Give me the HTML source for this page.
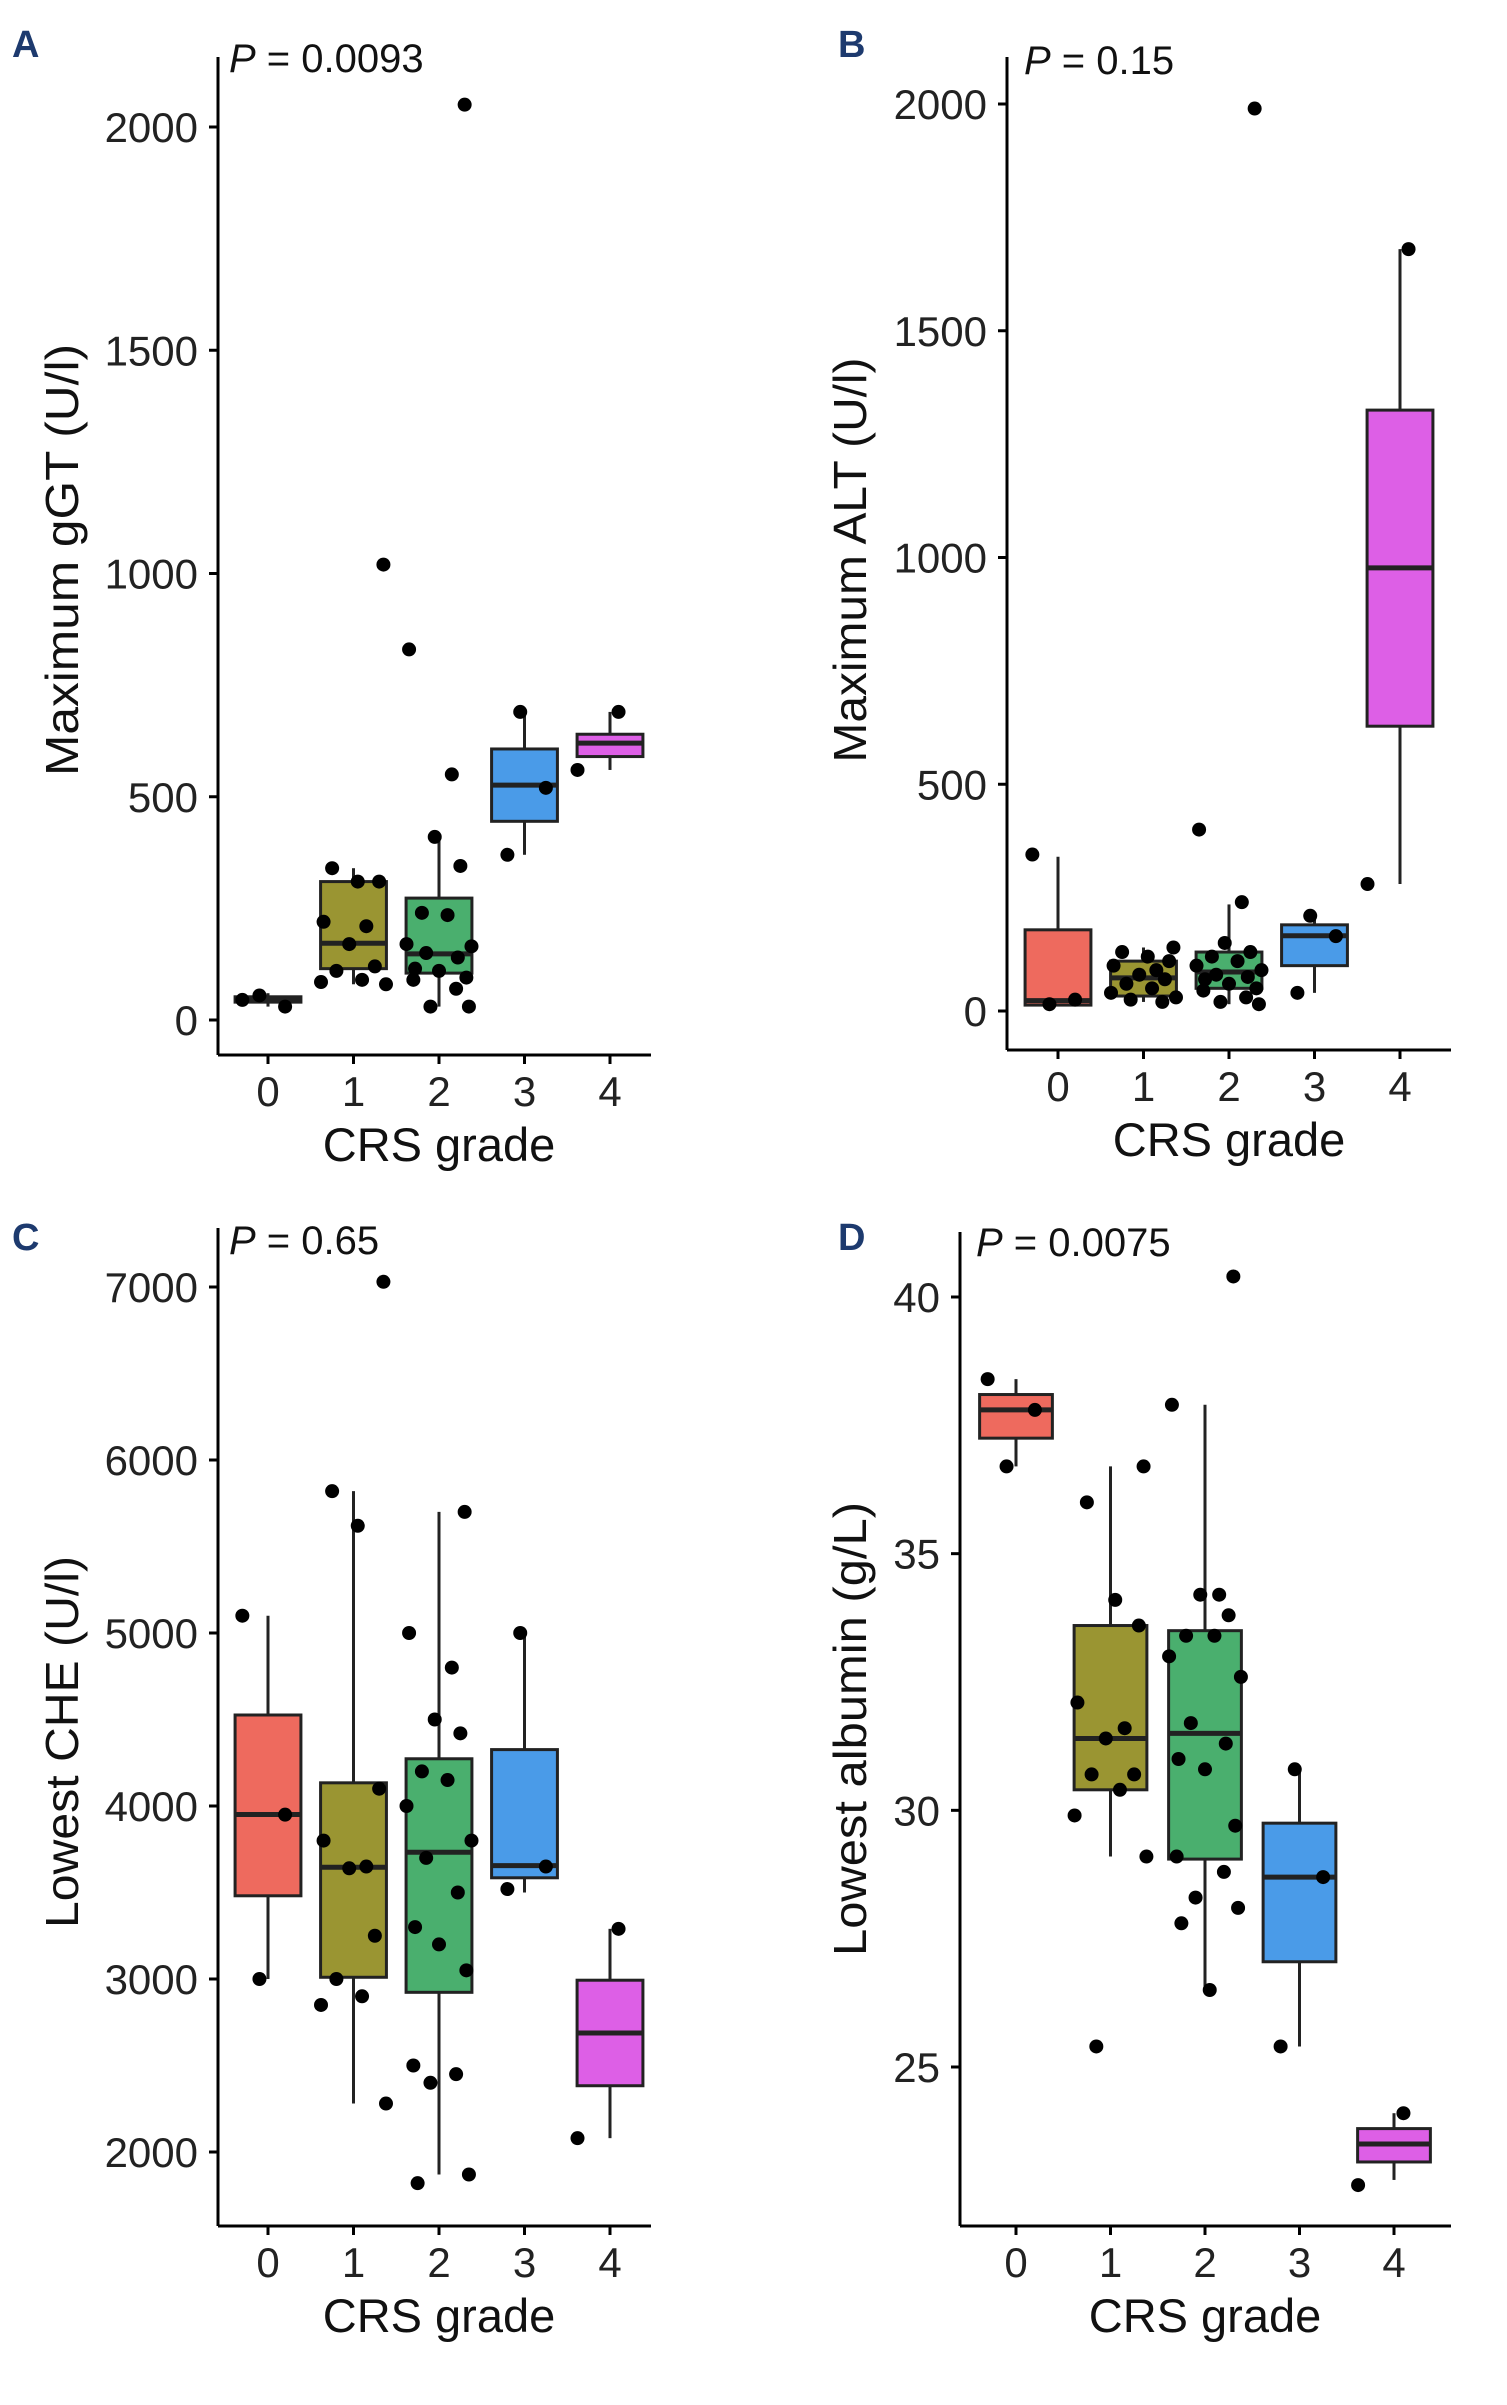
<!DOCTYPE html>
<html><head><meta charset="utf-8"><style>
body{margin:0;background:#fff;}
svg{display:block;font-family:"Liberation Sans",Arial,sans-serif;}
</style></head><body>
<svg id="fig" width="1507" height="2405" viewBox="0 0 1507 2405"></svg>
<script>
const categories=["0","1","2","3","4"];
const colors=["#ee6a5e","#9a9532","#4aaf6e","#4a9be8","#dd5fe6"];
// Panel A gGT
const aStats=[[30,40,48,52,60],[80,115,172,310,340],[30,105,148,273,410],[370,445,526,607,690],[560,590,620,640,690]];
const aPoints=[[45,30,55],[1020,340,310,310,220,210,170,120,110,90,85,80],[2050,830,550,410,345,240,235,170,165,150,140,115,110,95,90,70,30,30],[690,520,370],[690,560]];
const aTicks=[0,500,1000,1500,2000];
// Panel B ALT
const bStats=[[13,13,23,179,340],[20,33,73,110,140],[15,50,86,130,235],[40,100,166,190,210],[280,628,977,1325,1680]];
const bPoints=[[345,25,15],[140,130,120,110,100,90,80,70,60,50,40,30,25,20],[1990,400,240,150,130,120,110,100,90,80,75,70,60,50,45,30,20,15],[210,165,40],[1680,280]];
const bTicks=[0,500,1000,1500,2000];
// Panel C CHE
const cStats=[[3000,3481,3951,4526,5100],[2280,3010,3646,4134,5820],[1870,2923,3733,4273,5700],[3500,3585,3655,4326,5000],[2080,2383,2688,2993,3290]];
const cPoints=[[5100,3950,3000],[7030,5820,5620,4100,3800,3650,3640,3250,3000,2900,2850,2280],[5700,5000,4800,4500,4420,4200,4150,4000,3800,3700,3500,3300,3200,3050,2500,2450,2400,1870,1820],[5000,3650,3520],[3290,2080]];
const cTicks=[2000,3000,4000,5000,6000,7000];
// Panel D albumin
const dStats=[[36.7,37.25,37.8,38.1,38.4],[29.1,30.4,31.4,33.6,36.7],[26.5,29.05,31.5,33.5,37.9],[25.4,27.05,28.7,29.75,30.8],[22.8,23.15,23.5,23.8,24.1]];
const dPoints=[[38.4,37.8,36.7],[36.7,36.0,34.1,33.6,32.1,31.6,31.4,30.7,30.7,30.4,29.9,29.1,25.4],[40.4,37.9,34.2,34.2,33.8,33.4,33.4,33.0,32.6,31.7,31.3,31.0,30.8,29.7,29.1,28.8,28.3,28.1,27.8,26.5],[30.8,28.7,25.4],[24.1,22.7]];
const dTicks=[25,30,35,40];
const jit=[-0.3,0.2,-0.1,0.35,-0.25,0.05,0.3,-0.35,0.15,-0.05,0.25,-0.2,0.1,-0.38,0.38,-0.15,0.22,-0.28,0.0,0.32];

const NS="http://www.w3.org/2000/svg";
const svg=document.getElementById('fig');
function mk(tag,attrs,parent,txt){const e=document.createElementNS(NS,tag);for(const k in attrs)e.setAttribute(k,attrs[k]);if(txt!==undefined)e.textContent=txt;(parent||svg).appendChild(e);return e;}

function panel(cfg){
  const g=mk('g',{});
  
  
  const y=v=>cfg.y0px+(v-cfg.v0)*(cfg.y1px-cfg.y0px)/(cfg.v1-cfg.v0);
  const x=i=>cfg.cx0+i*cfg.dx;
  const bw=cfg.dx*0.77;
  const ya=mk('line',{x1:cfg.ax,y1:cfg.top,x2:cfg.ax,y2:cfg.bottom,stroke:'#000','stroke-width':3},g);
  
  
  const xa=mk('line',{x1:cfg.ax,y1:cfg.bottom,x2:cfg.right,y2:cfg.bottom,stroke:'#000','stroke-width':3},g);
  
  
  cfg.ticks.forEach(t=>{
    mk('line',{x1:cfg.ax-9,y1:y(t),x2:cfg.ax,y2:y(t),stroke:'#000','stroke-width':3},g);
    const tl=mk('text',{x:cfg.ax-20,y:y(t)+15,'font-size':42,'text-anchor':'end',fill:'#222'},g,String(t));
    
    
  });
  categories.forEach((c,i)=>{
    mk('line',{x1:x(i),y1:cfg.bottom,x2:x(i),y2:cfg.bottom+9,stroke:'#000','stroke-width':3},g);
    const tl=mk('text',{x:x(i),y:cfg.bottom+51,'font-size':42,'text-anchor':'middle',fill:'#222'},g,c);
    
    
  });
  cfg.stats.forEach((s,i)=>{
    const [lo,q1,md,q3,hi]=s;
    const bg=mk('g',{},g);
    
    
    mk('line',{x1:x(i),y1:y(hi),x2:x(i),y2:y(q3),stroke:'#222','stroke-width':3},bg);
    mk('line',{x1:x(i),y1:y(q1),x2:x(i),y2:y(lo),stroke:'#222','stroke-width':3},bg);
    mk('rect',{x:x(i)-bw/2,y:y(q3),width:bw,height:Math.max(1,y(q1)-y(q3)),fill:colors[i],stroke:'#222','stroke-width':3},bg);
    mk('line',{x1:x(i)-bw/2,y1:y(md),x2:x(i)+bw/2,y2:y(md),stroke:'#222','stroke-width':5},bg);
  });
  cfg.points.forEach((arr,i)=>{
    arr.forEach((v,k)=>{
      const p=mk('circle',{cx:x(i)+jit[(k+i*3)%jit.length]*cfg.dx,cy:y(v),r:7,fill:'#000'},g);
      
      
    });
  });
  const pl=mk('text',{x:cfg.px,y:cfg.py,'font-size':40,fill:'#111'},g);
  
  
  mk('tspan',{'font-style':'italic'},pl,'P');
  mk('tspan',{},pl,' = '+cfg.p);
  const yt=mk('text',{x:0,y:0,'font-size':46,'text-anchor':'middle',fill:'#111',textLength:cfg.ylen,lengthAdjust:'spacingAndGlyphs',transform:`translate(${cfg.ytx},${cfg.yty}) rotate(-90)`},g,cfg.ylabel);
  
  
  const xt=mk('text',{x:(x(0)+x(4))/2,y:cfg.bottom+106,'font-size':47,'text-anchor':'middle',fill:'#111'},g,'CRS grade');
  
  
  const lt=mk('text',{x:cfg.lx,y:cfg.ly,'font-size':38,'font-weight':'bold',fill:'#1d3a6e'},g,cfg.id);
  
  
}

panel({id:'A',stats:aStats,points:aPoints,ticks:aTicks,v0:0,v1:2000,y0px:1020,y1px:127,ax:218,top:57,bottom:1055,right:651,cx0:268,dx:85.5,px:229,py:72,p:'0.0093',ylabel:'Maximum gGT (U/l)',ylen:432,ytx:78,yty:560,lx:12,ly:57});
panel({id:'B',stats:bStats,points:bPoints,ticks:bTicks,v0:0,v1:2000,y0px:1011,y1px:104,ax:1007,top:57,bottom:1050,right:1451,cx0:1058,dx:85.5,px:1024,py:74,p:'0.15',ylabel:'Maximum ALT (U/l)',ylen:405,ytx:866,yty:560,lx:838,ly:57});
panel({id:'C',stats:cStats,points:cPoints,ticks:cTicks,v0:2000,v1:7000,y0px:2152,y1px:1287,ax:218,top:1228,bottom:2226,right:651,cx0:268,dx:85.5,px:229,py:1254,p:'0.65',ylabel:'Lowest CHE (U/l)',ylen:372,ytx:78,yty:1742,lx:12,ly:1250});
panel({id:'D',stats:dStats,points:dPoints,ticks:dTicks,v0:25,v1:40,y0px:2067,y1px:1297,ax:960,top:1232,bottom:2226,right:1451,cx0:1016,dx:94.5,px:976,py:1256,p:'0.0075',ylabel:'Lowest albumin (g/L)',ylen:454,ytx:866,yty:1729,lx:838,ly:1250});
</script>
</body></html>
